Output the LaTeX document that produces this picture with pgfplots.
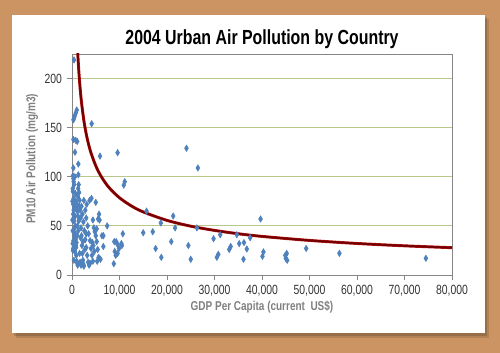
\documentclass[border=0pt]{standalone}
\usepackage{fontspec}
\setmainfont[FakeStretch=0.78]{Liberation Sans}
\usepackage{pgfplots}
\pgfplotsset{compat=1.18}
\definecolor{bgorange}{RGB}{204,148,98}
\definecolor{markblue}{RGB}{79,129,189}
\definecolor{gridgreen}{RGB}{184,200,140}
\definecolor{curvered}{RGB}{115,0,0}
\definecolor{curveedge}{RGB}{190,20,20}
\definecolor{axisgrey}{RGB}{134,134,134}
\definecolor{labelgrey}{RGB}{128,128,128}
\begin{document}
\begin{tikzpicture}[x=1pt,y=1pt]
\fill[bgorange] (-54,-58.5) rectangle (321,206.25);
\fill[black,opacity=0.12] (-42,-47.5) rectangle (313,192);
\fill[black,opacity=0.15] (-43.5,-45.5) rectangle (311.5,193.5);
\fill[white] (-45,-43.5) rectangle (309.75,195);
\begin{axis}[
  at={(0,0)}, anchor=south west,
  scale only axis, width=285pt, height=165.75pt,
  xmin=0, xmax=80000, ymin=0, ymax=225,
  xtick={0,10000,...,80000}, ytick={0,50,...,200},
  ymajorgrids, major grid style={gridgreen, line width=0.6pt},
  axis line style={axisgrey, line width=0.6pt},
  tick style={axisgrey, line width=0.6pt},
  major tick length=4pt,
  tick align=outside, xtick pos=bottom, ytick pos=left,
  scaled x ticks=false,
  /pgf/number format/assume math mode=true,
  xticklabel style={/pgf/number format/1000 sep={,}},
  tick label style={font=\fontsize{10}{12}\selectfont, black!80},
]
\addplot[only marks, mark=diamond*, mark size=2.4pt, color=markblue, mark options={xscale=0.8}] coordinates {
(420,219)(300,158)(550,162)(800,165)(1000,168)(450,160)(300,138)(800,137)(1100,136)(630,125)
(4140,154)(5890,121)(9600,124.5)(24100,129)(26500,109)(1330,113)(1330,102)(280,109)
(11100,95)(10900,91.5)(15700,65)(21300,60)(18700,53)(21700,48)(26300,48)(39700,57)
(15000,43)(17000,44)(17600,27)(18800,18)(20900,34)(24500,30)(25000,16)(29800,37)
(31200,41)(30500,18)(30800,21)(33100,26)(33400,29)(34700,41)(35200,32)(36200,33)
(36800,26.5)(37500,38)(36100,16)(40300,23.5)(40100,19)(44900,20)(45200,22)(45300,15)
(45000,17)(49300,27)(56300,22)(74500,17)(10700,42)(7400,50)(6600,40)(8900,34)(9300,34)
(9600,31)(9900,27)(9600,22)(9200,20)(8800,11.5)(10400,32)(10500,30)(9000,24)
(200,25)(300,35)(150,45)(400,55)(250,62)(500,70)(350,78)(200,85)(450,92)(300,98)
(600,100)(150,88)(700,83)(800,75)(900,68)(1000,72)(1100,65)(1200,80)(1300,88)(600,60)
(700,50)(500,40)(800,30)(900,20)(1000,14)(1100,12)(1200,10)(400,15)(600,24)(750,38)
(1300,45)(1400,55)(1500,70)(1600,76)(100,75)(250,72)(350,66)(450,58)(550,48)(650,42)
(750,36)(850,28)(950,33)(1050,40)(1150,50)(1250,60)(1400,92)(1500,84)(200,101)(350,95)
(100,56)(150,32)(250,27)(1700,66)(1800,58)(1900,48)(2000,40)(2100,30)(2200,22)(2300,15)
(2400,11)(2500,9)(1700,13)(1900,10)(2000,70)(2200,62)(2400,54)(2600,45)(2800,36)(3000,28)
(3200,20)(3400,13)(3600,10)(2500,76)(2800,66)(3000,58)(3300,50)(3500,42)(3800,35)(4000,27)
(4200,20)(4400,14)(3100,72)(3700,76)(4100,78)(4400,56)(4600,48)(4800,44)(5000,40)(5200,34)
(5400,26)(5600,18)(4500,30)(4700,24)(5000,74)(5200,47)(5500,57)(5700,62)(5800,56)(6000,16)
(6300,40)(6600,29)(5300,14)(3800,12)(4300,33)(3000,42)(2700,26)(2300,34)(1800,38)(1600,22)
};
\addplot[smooth, color=curveedge, line width=2.2pt] coordinates {
(1100,237)(1200,226.9)(1300,218)(1500,203)(1750,188)(2000,175.8)(2500,157.2)(3000,143.5)
(3500,132.9)(4000,124.3)(5000,111.2)(6000,101.5)(7000,94)(8000,87.9)(10000,78.6)(12500,70.3)
(15000,64.2)(20000,55.6)(25000,49.7)(30000,45.4)(35000,42)(40000,39.3)(50000,35.2)
(60000,32.1)(70000,29.7)(80000,27.8)
};
\addplot[smooth, color=curvered, line width=1.5pt] coordinates {
(1100,237)(1200,226.9)(1300,218)(1500,203)(1750,188)(2000,175.8)(2500,157.2)(3000,143.5)
(3500,132.9)(4000,124.3)(5000,111.2)(6000,101.5)(7000,94)(8000,87.9)(10000,78.6)(12500,70.3)
(15000,64.2)(20000,55.6)(25000,49.7)(30000,45.4)(35000,42)(40000,39.3)(50000,35.2)
(60000,32.1)(70000,29.7)(80000,27.8)
};
\end{axis}
\node[font=\bfseries\fontsize{15.3}{18}\selectfont, black] at (142.5,176.8) {2004 Urban Air Pollution by Country};
\node[font=\bfseries\fontsize{9.6}{11}\selectfont, labelgrey] at (142.5,-24) {GDP Per Capita (current\ \ US\$)};
\node[font=\bfseries\fontsize{9.6}{11}\selectfont, labelgrey, rotate=90] at (-30,87) {PM10 Air Pollution (mg/m3)};
\end{tikzpicture}
\end{document}
